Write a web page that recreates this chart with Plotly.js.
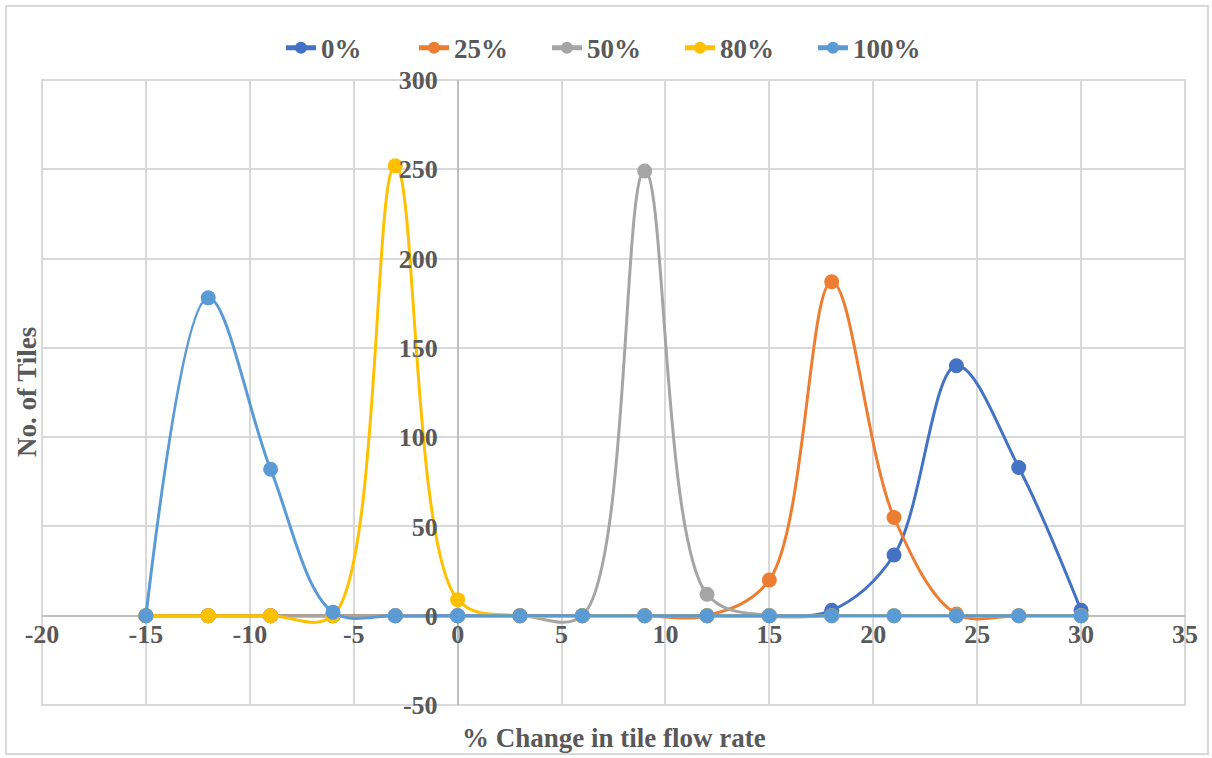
<!DOCTYPE html>
<html>
<head>
<meta charset="utf-8">
<script src="https://cdn.plot.ly/plotly-3.0.1.min.js"></script>
<style>
  html, body { margin: 0; padding: 0; background: #ffffff; }
  #wrap { position: relative; width: 1212px; height: 758px; }
  #chart { position: absolute; left: 0; top: 0; width: 1212px; height: 758px; }
  #frame { position: absolute; left: 5px; top: 5px; width: 1200px; height: 746px; border: 2px solid #d9d9d9; pointer-events: none; }
</style>
</head>
<body>
<div id="wrap">
  <div id="chart"></div>
  <div id="frame"></div>
</div>
<script>
const xValues = [-15, -12, -9, -6, -3, 0, 3, 6, 9, 12, 15, 18, 21, 24, 27, 30];
const seriesNames = ["0%", "25%", "50%", "80%", "100%"];
const s0   = [0, 0, 0, 0, 0, 0, 0, 0, 0, 0, 0, 3, 34, 140, 83, 3];
const s25  = [0, 0, 0, 0, 0, 0, 0, 0, 0, 0, 20, 187, 55, 1, 0, 0];
const s50  = [0, 0, 0, 0, 0, 0, 0, 0, 249, 12, 0, 0, 0, 0, 0, 0];
const s80  = [0, 0, 0, 0, 252, 9, 0, 0, 0, 0, 0, 0, 0, 0, 0, 0];
const s100 = [0, 178, 82, 2, 0, 0, 0, 0, 0, 0, 0, 0, 0, 0, 0, 0];
const seriesColors = ["#4472C4", "#ED7D31", "#A5A5A5", "#FFC000", "#5B9BD5"];
const allSeries = [s0, s25, s50, s80, s100];

const xTickVals = [-20, -15, -10, -5, 0, 5, 10, 15, 20, 25, 30, 35];
const xTickText = ["-20", "-15", "-10", "-5", "0", "5", "10", "15", "20", "25", "30", "35"];
const yTickVals = [-50, 0, 50, 100, 150, 200, 250, 300];
const yTickText = ["-50", "0", "50", "100", "150", "200", "250", "300"];

const FONT = "Liberation Serif, Times New Roman, serif";
const TXT = "#595959";

const traces = allSeries.map((ys, i) => ({
  type: "scatter",
  mode: "lines+markers",
  name: seriesNames[i],
  x: xValues,
  y: ys,
  line: { color: seriesColors[i], width: 3, shape: "spline", smoothing: 1 },
  marker: { color: seriesColors[i], size: 15 }
}));

const xMin = -20, xMax = 35, yMin = -50, yMax = 300;

const layout = {
  width: 1212,
  height: 758,
  margin: { l: 42, r: 27, t: 80, b: 53, pad: 0 },
  paper_bgcolor: "rgba(0,0,0,0)",
  plot_bgcolor: "#ffffff",
  showlegend: true,
  legend: {
    orientation: "h",
    x: 0.5, xanchor: "center",
    y: 1.051, yanchor: "middle",
    font: { family: FONT, size: 27, color: TXT, weight: "bold" },
    itemsizing: "constant",
    traceorder: "normal",
    entrywidth: 88,
    entrywidthmode: "pixels"
  },
  xaxis: {
    range: [xMin, xMax],
    tickmode: "array",
    tickvals: xTickVals,
    ticktext: xTickText,
    showgrid: true,
    gridcolor: "#d9d9d9",
    gridwidth: 2,
    zeroline: true,
    zerolinecolor: "#bfbfbf",
    zerolinewidth: 2,
    showline: false,
    ticks: "",
    anchor: "free",
    position: (0 - yMin) / (yMax - yMin),
    tickfont: { family: FONT, size: 26, color: TXT, weight: "bold" },
    automargin: false,
    fixedrange: true
  },
  yaxis: {
    range: [yMin, yMax],
    tickmode: "array",
    tickvals: yTickVals,
    ticktext: yTickText,
    showgrid: true,
    gridcolor: "#d9d9d9",
    gridwidth: 2,
    zeroline: true,
    zerolinecolor: "#bfbfbf",
    zerolinewidth: 2,
    showline: false,
    ticks: "",
    ticklabelstandoff: 20,
    anchor: "free",
    position: (0 - xMin) / (xMax - xMin),
    tickfont: { family: FONT, size: 26, color: TXT, weight: "bold" },
    automargin: false,
    fixedrange: true
  },
  shapes: [{
    type: "rect", xref: "paper", yref: "paper", x0: 0, x1: 1, y0: 0, y1: 1,
    line: { color: "#d9d9d9", width: 2 }, layer: "below"
  }],
  annotations: [
    {
      text: "% Change in tile flow rate",
      xref: "paper", yref: "paper", x: 0.5, y: -0.052,
      xanchor: "center", yanchor: "middle", showarrow: false,
      font: { family: FONT, size: 27, color: TXT, weight: "bold" }
    },
    {
      text: "No. of Tiles",
      xref: "paper", yref: "paper", x: -0.0135, y: 0.5,
      xanchor: "center", yanchor: "middle", showarrow: false, textangle: -90,
      font: { family: FONT, size: 27, color: TXT, weight: "bold" }
    }
  ]
};

Plotly.newPlot("chart", traces, layout, { displayModeBar: false, staticPlot: true });
</script>
</body>
</html>
